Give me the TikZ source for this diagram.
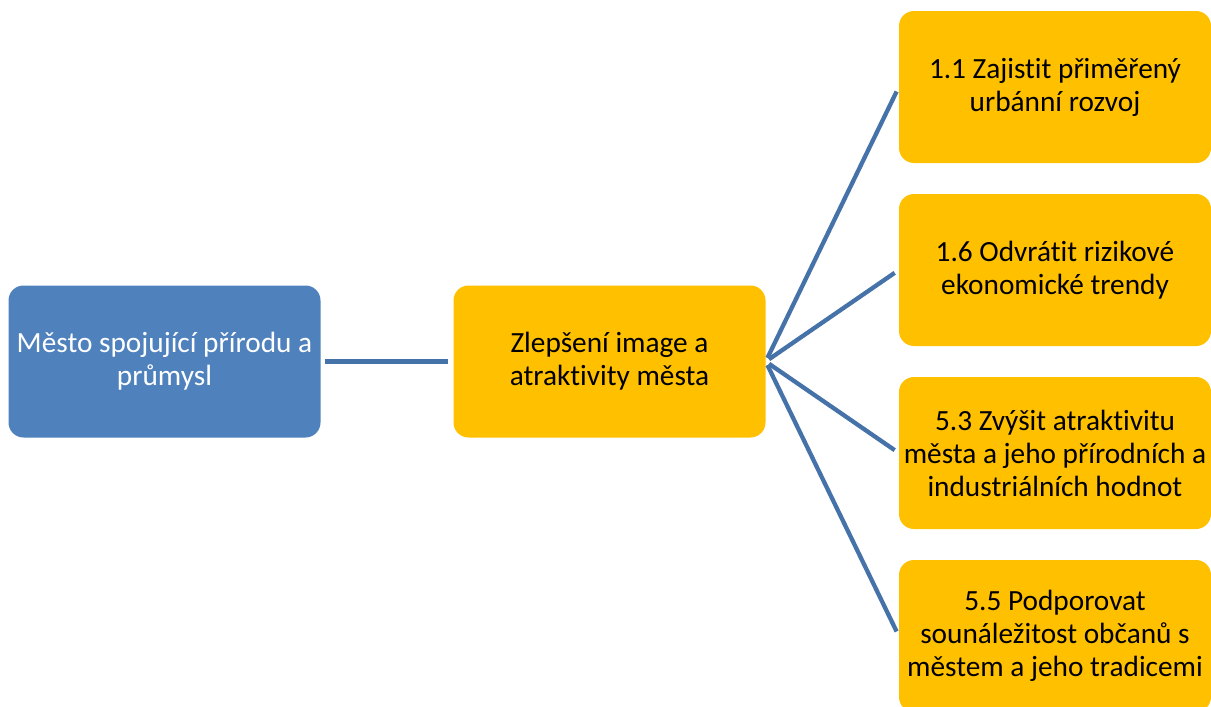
\documentclass[tikz,border=0pt]{standalone}
\usepackage{fontspec}
\setmainfont{Carlito}[Ligatures=NoCommon]
\definecolor{boxblue}{HTML}{4F81BD}
\definecolor{boxorange}{HTML}{FFC000}
\definecolor{linkblue}{HTML}{4672AA}
\begin{document}
\begin{tikzpicture}[x=1pt,y=-1pt,
  box/.style={rectangle, rounded corners=15pt, minimum width=312pt, minimum height=152pt,
    align=center, inner sep=2pt, font=\fontsize{29.3}{33}\selectfont},
  bluebox/.style={box, fill=boxblue, text=white},
  orangebox/.style={box, fill=boxorange, text=black},
  link/.style={draw=linkblue, line width=4.3pt, shorten <=4pt, shorten >=5pt}]
\useasboundingbox (0,0) rectangle (1211,707);
\clip (0,0) rectangle (1211,707);
\node[bluebox] (root) at (164.5,361.5) {Město spojující přírodu a\\průmysl};
\node[orangebox] (mid) at (609.5,361.5) {Zlepšení image a\\atraktivity města};
\node[orangebox] (r1) at (1055,87) {1.1 Zajistit přiměřený\\urbánní rozvoj};
\node[orangebox] (r2) at (1055,270) {1.6 Odvrátit rizikové\\ekonomické trendy};
\node[orangebox] (r3) at (1055,453) {5.3 Zvýšit atraktivitu\\města a jeho přírodních a\\industriálních hodnot};
\node[orangebox] (r4) at (1055,636) {5.5 Podporovat\\sounáležitost občanů s\\městem a jeho tradicemi};
\draw[link] (root.east) -- (mid.west);
\foreach \r in {r1,r2,r3,r4} \draw[link] (mid.east) -- (\r.west);
\end{tikzpicture}
\end{document}
